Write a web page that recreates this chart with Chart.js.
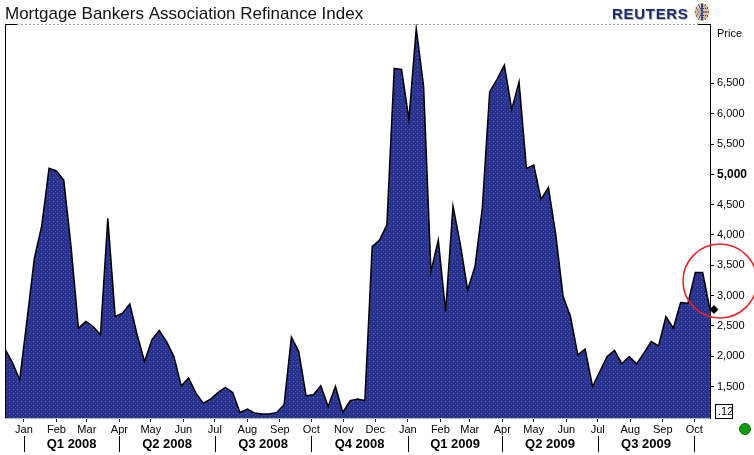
<!DOCTYPE html>
<html>
<head>
<meta charset="utf-8">
<script src="https://cdn.jsdelivr.net/npm/chart.js@4"></script>
<style>
  body { margin: 0; background: #fff; }
  canvas { display: block; }
</style>
</head>
<body>
<canvas id="chart" width="754" height="455"></canvas>
<script>
// weekly MBA refinance index, first week ending 14 Dec 2007
const firstWeek = '2007-12-14';
const refiIndex = [
  2116, 1900, 1610, 2600, 3616, 4150, 5099, 5055, 4906, 3800,
  2462, 2572, 2490, 2352, 4275, 2654, 2710, 2863, 2350, 1912,
  2270, 2423, 2241, 1994, 1511, 1638, 1391, 1226, 1292, 1401,
  1484, 1401, 1072, 1127, 1061, 1045, 1045, 1072, 1199, 2314,
  2077, 1347, 1363, 1511, 1171, 1500, 1072, 1264, 1292, 1269,
  3807, 3917, 4165, 6747, 6730, 5907, 7406, 6450, 3395, 3917,
  2736, 4478, 3850, 3093, 3478, 4450, 6362, 6566, 6802, 6071,
  6526, 5099, 5154, 4588, 4786, 4000, 2983, 2654, 2022, 2116,
  1500, 1747, 1994, 2094, 1874, 1994, 1874, 2050, 2242, 2171,
  2654, 2462, 2885, 2874, 3379, 3379, 2770
];
const lastWeek = '2009-10-16';

const monthStarts = [
  '2008-01-01', '2008-02-01', '2008-03-01', '2008-04-01', '2008-05-01', '2008-06-01',
  '2008-07-01', '2008-08-01', '2008-09-01', '2008-10-01', '2008-11-01', '2008-12-01',
  '2009-01-01', '2009-02-01', '2009-03-01', '2009-04-01', '2009-05-01', '2009-06-01',
  '2009-07-01', '2009-08-01', '2009-09-01', '2009-10-01'
];
const monthLabels = ['Jan', 'Feb', 'Mar', 'Apr', 'May', 'Jun', 'Jul', 'Aug', 'Sep', 'Oct', 'Nov', 'Dec',
  'Jan', 'Feb', 'Mar', 'Apr', 'May', 'Jun', 'Jul', 'Aug', 'Sep', 'Oct'];
const quarterStarts = ['2008-01-01', '2008-04-01', '2008-07-01', '2008-10-01',
  '2009-01-01', '2009-04-01', '2009-07-01', '2009-10-01'];
const quarterLabels = ['Q1 2008', 'Q2 2008', 'Q3 2008', 'Q4 2008', 'Q1 2009', 'Q2 2009', 'Q3 2009'];
const priceTicks = [1500, 2000, 2500, 3000, 3500, 4000, 4500, 5000, 5500, 6000, 6500];
const boldTick = 5000;
const axisBox = '.12';

// days counted from 1 Jan 2008
const dayOf = s => {
  const [y, m, d] = s.split('-').map(Number);
  return (Date.UTC(y, m - 1, d) - Date.UTC(2008, 0, 1)) / 864e5;
};

const points = refiIndex.map((v, i) => ({ x: dayOf(firstWeek) + 7 * i, y: v }));

const canvas = document.querySelector('#chart');
const ctx = canvas.getContext('2d');

// dotted navy fill like the reuters graphic
const tile = document.createElement('canvas');
tile.width = 4; tile.height = 4;
const t = tile.getContext('2d');
t.fillStyle = '#2b2f90';
t.fillRect(0, 0, 4, 4);
t.fillStyle = '#3f7f96';
t.fillRect(1, 1, 1, 1);
t.fillStyle = '#33509a';
t.fillRect(3, 3, 1, 1);
const navy = ctx.createPattern(tile, 'repeat');

const FONT = '"Liberation Sans", Arial, sans-serif';

const decorations = {
  id: 'decorations',
  afterDraw(chart) {
    const c = chart.ctx;
    const xs = chart.scales.x, ys = chart.scales.y;
    const area = chart.chartArea;
    c.save();

    // title
    c.fillStyle = '#111';
    c.font = '17px ' + FONT;
    c.textBaseline = 'alphabetic';
    c.textAlign = 'left';
    c.fillText('Mortgage Bankers Association Refinance Index', 5, 19);

    // reuters mark
    c.font = 'bold 15px ' + FONT;
    c.letterSpacing = '0.7px';
    c.fillStyle = '#b8bccc';
    c.fillText('REUTERS', 613, 20);
    c.fillStyle = '#1c2b68';
    c.fillText('REUTERS', 612, 19);
    c.letterSpacing = '0px';
    const gx = 702, gy = 12;
    for (let r = 2; r <= 8; r += 2) {
      const n = Math.round(r * 3);
      for (let a = 0; a < n; a++) {
        const ang = a / n * Math.PI * 2;
        c.fillStyle = a % 2 ? '#f39a2c' : '#1c2b68';
        c.fillRect(gx + Math.cos(ang) * r * 0.8 - 0.7, gy + Math.sin(ang) * r - 0.7, 1.4, 1.4);
      }
    }
    c.fillStyle = '#1c2b68';
    c.fillRect(gx - 0.75, gy - 8, 1.5, 16);

    // frame: left black edge, top dashed line
    c.strokeStyle = '#000';
    c.lineWidth = 1;
    c.beginPath();
    c.moveTo(area.left + 0.5, area.top); c.lineTo(area.left + 0.5, area.bottom);
    c.moveTo(area.left, area.top + 0.5); c.lineTo(area.left + 12, area.top + 0.5);
    c.moveTo(area.right - 12, area.top + 0.5); c.lineTo(area.right, area.top + 0.5);
    c.stroke();
    c.strokeStyle = '#9a9ab8';
    c.setLineDash([2, 2]);
    c.beginPath();
    c.moveTo(area.left + 12, area.top + 0.5); c.lineTo(area.right - 12, area.top + 0.5);
    c.stroke();
    c.setLineDash([]);

    // quarter separators and labels
    c.strokeStyle = '#000';
    c.beginPath();
    quarterStarts.forEach(q => {
      const px = Math.round(xs.getPixelForValue(dayOf(q))) + 0.5;
      c.moveTo(px, xs.top + 18); c.lineTo(px, xs.top + 34);
    });
    c.stroke();
    c.fillStyle = '#000';
    c.font = 'bold 13px ' + FONT;
    c.textAlign = 'center';
    c.textBaseline = 'middle';
    quarterLabels.forEach((q, i) => {
      const a = xs.getPixelForValue(dayOf(quarterStarts[i]));
      const b = xs.getPixelForValue(dayOf(quarterStarts[i + 1]));
      c.fillText(q, (a + b) / 2, xs.top + 26);
    });

    // axis caption and value box
    c.font = '11px ' + FONT;
    c.textAlign = 'left';
    c.fillText('Price', ys.left + 7, area.top + 10);
    const bx = ys.left + 5, by = area.bottom - 14;
    c.fillText(axisBox, bx + 3, by + 7.5);
    c.strokeRect(bx + 0.5, by + 0.5, 17, 14);

    // last value marker
    const last = refiIndex[refiIndex.length - 1];
    const dy = ys.getPixelForValue(last);
    const dx = ys.left + 4;
    c.fillStyle = '#000';
    c.beginPath();
    c.moveTo(dx, dy - 4.5); c.lineTo(dx + 4.5, dy); c.lineTo(dx, dy + 4.5); c.lineTo(dx - 4.5, dy);
    c.closePath(); c.fill();

    // red highlight ring
    c.strokeStyle = '#e3242b';
    c.lineWidth = 1.6;
    c.beginPath();
    c.arc(ys.left + 10, ys.getPixelForValue(3240), 37, 0, Math.PI * 2);
    c.stroke();

    // green status dot
    c.fillStyle = '#129a12';
    c.strokeStyle = '#0b6b0b';
    c.lineWidth = 1;
    c.beginPath();
    c.arc(chart.width - 9, xs.top + 11, 5.5, 0, Math.PI * 2);
    c.fill(); c.stroke();

    c.restore();
  }
};

new Chart(ctx, {
  type: 'line',
  data: {
    datasets: [{
      label: 'Refinance Index',
      data: points,
      borderColor: '#000',
      borderWidth: 1.5,
      backgroundColor: navy,
      fill: 'start',
      tension: 0,
      pointRadius: 0
    }]
  },
  options: {
    responsive: false,
    animation: false,
    layout: { padding: { left: 5, top: 24, right: 0, bottom: 0 } },
    plugins: { legend: { display: false }, tooltip: { enabled: false } },
    scales: {
      x: {
        type: 'linear',
        min: dayOf(firstWeek),
        max: dayOf(lastWeek),
        afterBuildTicks: s => { s.ticks = monthStarts.map(m => ({ value: dayOf(m) })); },
        afterFit: s => { s.height = 37; },
        grid: { drawOnChartArea: false, drawTicks: true, tickLength: 4, color: '#000' },
        border: { color: '#b4b4b4', width: 1 },
        ticks: {
          autoSkip: false,
          maxRotation: 0,
          padding: 1,
          color: '#000',
          font: { family: FONT, size: 11 },
          callback: (v, i) => monthLabels[i]
        }
      },
      y: {
        position: 'right',
        min: 980,
        max: 7480,
        afterBuildTicks: s => { s.ticks = priceTicks.map(v => ({ value: v })); },
        afterFit: s => { s.width = 44; },
        grid: { drawOnChartArea: false, drawTicks: true, tickLength: 4, color: '#000' },
        border: { color: '#000', width: 1 },
        ticks: {
          padding: 3,
          color: '#000',
          font: ctx => ctx.tick && ctx.tick.value === boldTick
            ? { family: FONT, size: 12, weight: 'bold' }
            : { family: FONT, size: 11 },
          callback: v => v.toLocaleString('en-US')
        }
      }
    }
  },
  plugins: [decorations]
});
</script>
</body>
</html>
